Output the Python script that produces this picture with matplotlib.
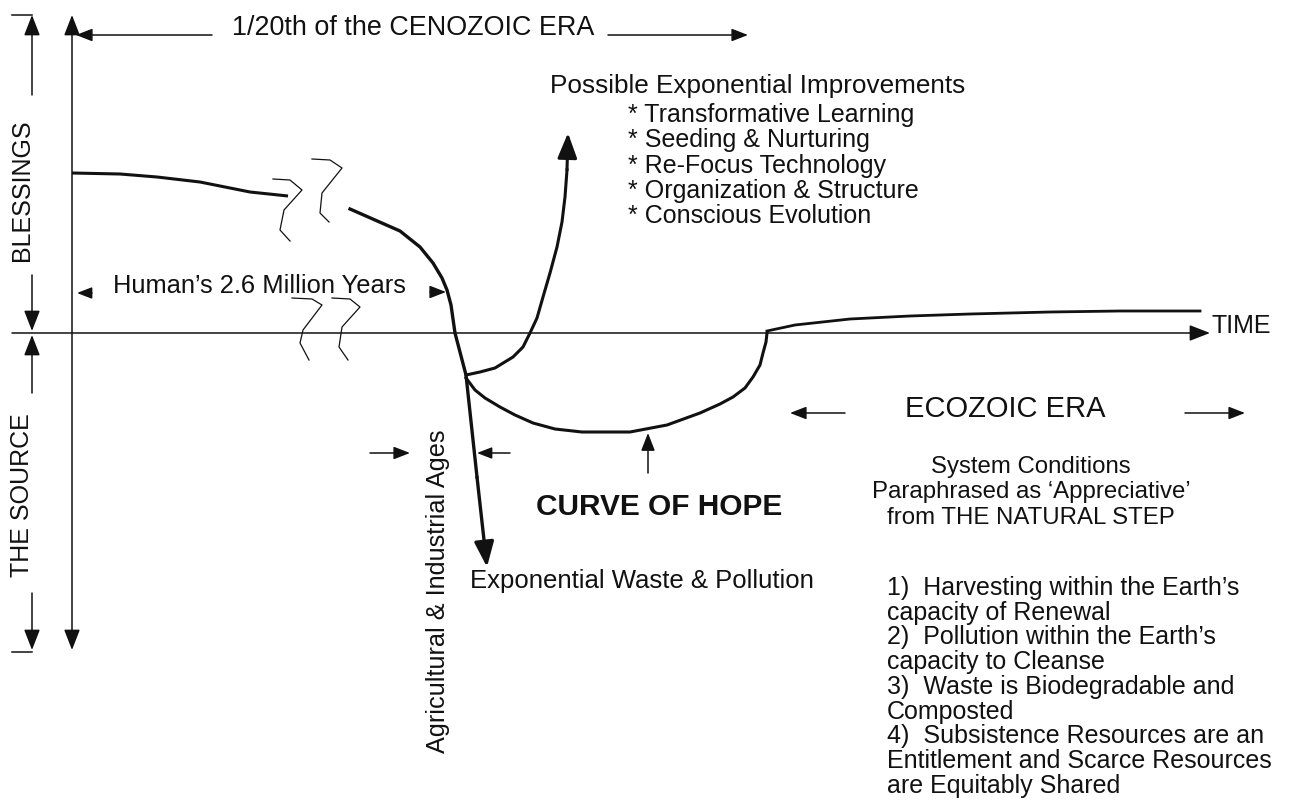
import matplotlib
matplotlib.use('Agg')
import matplotlib.pyplot as plt

plt.rcParams['font.family'] = ['Liberation Sans', 'DejaVu Sans']

# curves (pixel units, y grows downward)
blessing_x = [72, 120, 157, 200, 250, 288]
blessing_y = [173, 174, 177, 182, 192, 196]

decline_x = [350, 375, 400, 420, 433, 442, 447, 451, 455, 466, 477, 487]
decline_y = [209, 220, 231, 247, 263, 278, 290, 305, 333, 375, 477, 567]

improve_x = [466, 480, 495, 513, 523, 530, 537, 543, 550, 557, 562, 565, 567, 568]
improve_y = [375, 372, 368, 357, 347, 333, 318, 297, 273, 247, 222, 197, 170, 133]

hope_x = [466, 475, 485, 500, 515, 533, 555, 582, 630, 667, 700, 720, 733, 745, 753, 760, 763, 766, 767]
hope_y = [378, 390, 398, 407, 415, 423, 429, 432, 432, 425, 413, 404, 397, 388, 377, 365, 353, 342, 333]

recovery_x = [767, 795, 850, 910, 970, 1050, 1120, 1200]
recovery_y = [331, 325, 319, 316, 314, 312, 311, 311]

squiggles = [
    ([273, 290, 302, 284, 280, 290], [179, 180, 190, 210, 230, 241]),
    ([312, 330, 342, 322, 320, 329], [159, 160, 168, 193, 213, 222]),
    ([292, 312, 322, 303, 300, 309], [298, 299, 305, 330, 343, 360]),
    ([332, 350, 360, 342, 339, 348], [298, 299, 307, 327, 347, 360]),
]

improvements = ['Transformative Learning', 'Seeding & Nurturing',
                'Re-Focus Technology', 'Organization & Structure',
                'Conscious Evolution']

system_head = ['System Conditions', 'Paraphrased as \u2018Appreciative\u2019',
               'from THE NATURAL STEP']

conditions = ["1)  Harvesting within the Earth\u2019s", 'capacity of Renewal',
              "2)  Pollution within the Earth\u2019s", 'capacity to Cleanse',
              '3)  Waste is Biodegradable and', 'Composted',
              '4)  Subsistence Resources are an',
              'Entitlement and Scarce Resources', 'are Equitably Shared']

INK = '#111111'

fig = plt.figure(figsize=(13.15, 8), dpi=100)
ax = fig.add_axes([0, 0, 1, 1])
ax.set_xlim(0, 1315)
ax.set_ylim(800, 0)
ax.axis('off')


def arrow(tail, tip, lw=1.1, size=14, style='-|>'):
    ax.annotate('', xy=tip, xytext=tail,
                arrowprops=dict(arrowstyle=style + ',head_length=0.9,head_width=0.35',
                                color=INK, lw=lw, shrinkA=0, shrinkB=0,
                                mutation_scale=size))


# axes and brackets
arrow((72, 650), (72, 15), style='<|-|>')
arrow((12, 333), (1210, 333))
ax.plot([12, 32], [15, 15], color=INK, lw=1.1)
ax.plot([12, 32], [652, 652], color=INK, lw=1.1)
arrow((32, 95), (32, 15))
arrow((32, 275), (32, 331))
arrow((32, 393), (32, 335))
arrow((32, 593), (32, 650))

# label arrows
arrow((212, 35), (76, 35), size=11)
arrow((608, 35), (748, 35), size=11)
arrow((92, 293), (77, 293), size=10)
arrow((430, 292), (446, 292), size=11)
arrow((370, 453), (410, 453), size=11)
arrow((510, 453), (477, 453), size=10)
arrow((648, 473), (648, 433), size=12)
arrow((845, 413), (790, 413), size=11)
arrow((1185, 413), (1245, 413), size=11)

# curves
ax.plot(blessing_x, blessing_y, color=INK, lw=2.2, solid_capstyle='butt')
ax.plot(decline_x[:-1], decline_y[:-1], color=INK, lw=2.4, solid_joinstyle='round')
arrow((decline_x[-2], decline_y[-2]), (decline_x[-1], decline_y[-1]), lw=2.4, size=17)
ax.plot(improve_x[:-1], improve_y[:-1], color=INK, lw=2.2, solid_joinstyle='round')
arrow((improve_x[-2], improve_y[-2]), (improve_x[-1], improve_y[-1]), lw=2.2, size=17)
ax.plot(hope_x, hope_y, color=INK, lw=2.2, solid_joinstyle='round')
ax.plot(recovery_x, recovery_y, color=INK, lw=2.0)
for sx, sy in squiggles:
    ax.plot(sx, sy, color=INK, lw=0.9)

# text
fs = 18
ax.text(232, 35, '1/20th of the CENOZOIC ERA', fontsize=19.4, color=INK, va='baseline')
ax.text(550, 93, 'Possible Exponential Improvements', fontsize=18.8, color=INK, va='baseline')
for i, item in enumerate(improvements):
    ax.text(628, 122 + 25.3 * i, '* ' + item, fontsize=fs, color=INK, va='baseline')
ax.text(113, 293, 'Human\u2019s 2.6 Million Years', fontsize=18.4, color=INK, va='baseline')
ax.text(22, 190, 'BLESSINGS', fontsize=fs, color=INK, rotation=90, ha='center', va='center')
ax.text(22, 495, 'THE SOURCE', fontsize=fs, color=INK, rotation=90, ha='center', va='center')
ax.text(438, 591, 'Agricultural & Industrial Ages', fontsize=18.2, color=INK,
        rotation=90, ha='center', va='center')
ax.text(470, 588, 'Exponential Waste & Pollution', fontsize=18.5, color=INK, va='baseline')
ax.text(659, 515, 'CURVE OF HOPE', fontsize=21.5, fontweight='bold', color=INK,
        ha='center', va='baseline')
ax.text(1212, 333, 'TIME', fontsize=fs, color=INK, va='baseline')
ax.text(1005, 417, 'ECOZOIC ERA', fontsize=21, color=INK, ha='center', va='baseline')
for i, line in enumerate(system_head):
    ax.text(1031, 473 + 25.3 * i, line, fontsize=17.3, color=INK, ha='center', va='baseline')
for i, line in enumerate(conditions):
    ax.text(887, 595 + 24.7 * i, line, fontsize=fs, color=INK, va='baseline')

fig.savefig('out.png', dpi=100, facecolor='white')
